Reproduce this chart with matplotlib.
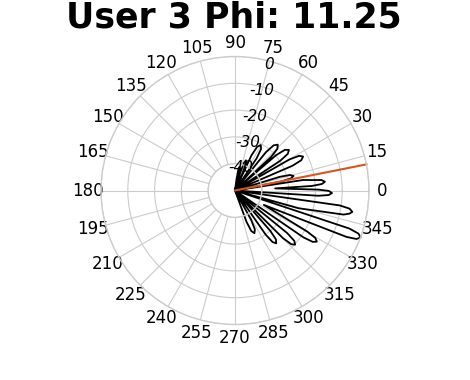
import numpy as np
import matplotlib
matplotlib.use("Agg")
import matplotlib.pyplot as plt

# ── data ───────────────────────────────────────────────────────────────────────
USER = 3
PHI_DEG = 11.25

# beam pattern vertices, theta in degrees, gain in dB (floor -50 = centre)
theta_deg = [-90,
             -69.8, -68.08, -65.5, -62.92, -61.2, -58.5,
             -55.2, -53.92, -52.0, -50.08, -48.8, -47,
             -44.8, -43.68, -42.0, -40.32, -39.2, -37,
             -34.4, -33.44, -32.0, -30.56, -29.6, -26.5,
             -22.6, -21.76, -20.5, -19.24, -18.4, -17.0,
             -15.6, -12.5, -11.4, -10.3, -9.0, -8.1, -5,
             -3.6, -2.76, -1.5, -0.24, 0.6, 3.0,
             3.4, 4.28, 5.6, 6.92, 7.8, 8.8, 10,
             11.0, 12.2, 14.0, 15.8, 17.0, 20,
             23.3, 24.58, 26.5, 28.42, 29.7, 32,
             33.3, 34.78, 37.0, 39.22, 40.7, 42,
             42.9, 44.54, 47.0, 49.46, 51.1, 54,
             56.1, 57.86, 60.5, 63.14, 64.9, 65.5,
             66.5, 67.9, 70.0, 72.1, 73.5, 75,
             75.5, 76.9, 79.0, 81.1, 82.5,
             90]
gain_db = [-50,
           -37.5, -33.7, -32.5, -33.7, -37.5, -50,
           -30.0, -26.2, -25.0, -26.2, -30.0, -50,
           -24.8, -21.0, -19.8, -21.0, -24.8, -50,
           -19.0, -15.2, -14.0, -15.2, -19.0, -38,
           -5.0, -1.2, 0.0, -1.2, -5.0, -50,
           -25.4, -8.5, -6.4, -5.5, -6.7, -10.5, -50,
           -18.8, -15.0, -13.8, -15.0, -18.8, -35,
           -21.3, -17.5, -16.3, -17.5, -21.3, -24.3, -50,
           -32.5, -28.7, -27.5, -28.7, -32.5, -50,
           -26.6, -22.8, -21.6, -22.8, -26.6, -50,
           -29.8, -26.0, -24.8, -26.0, -29.8, -50,
           -31.6, -27.8, -26.6, -27.8, -31.6, -50,
           -35.5, -31.7, -30.5, -31.7, -35.5, -50,
           -43.0, -39.2, -38.0, -39.2, -43.0, -50,
           -46.0, -42.2, -41.0, -42.2, -46.0,
           -50]

theta_ticks = list(range(0, 360, 15))
r_ticks = [-40, -30, -20, -10, 0]
R_ORIGIN, R_MIN, R_MAX = -50, -40, 0
RLABEL_DEG = 75

# ── plot ───────────────────────────────────────────────────────────────────────
fig = plt.figure(figsize=(4.7, 3.8), dpi=100)
ax = fig.add_axes([0.2149, 0.146, 0.5702, 0.7053], projection="polar")

ax.plot(np.deg2rad(theta_deg), gain_db, color="black", lw=1.3, clip_on=False)
ax.plot(np.deg2rad([PHI_DEG, PHI_DEG]), [R_ORIGIN, R_MAX],
        color="#d9541e", lw=1.5, clip_on=False)

ax.set_rorigin(R_ORIGIN)
ax.set_ylim(R_MIN, R_MAX)
ax.set_yticks(r_ticks)
ax.set_yticklabels([])
for t in r_ticks:
    ax.text(np.deg2rad(RLABEL_DEG), t - 1.3, str(t), fontsize=11,
            fontstyle="italic", ha="center", va="center", clip_on=False)
ax.set_xticks(np.deg2rad(theta_ticks))
ax.set_xticklabels([str(t) for t in theta_ticks], fontsize=12)
ax.tick_params(axis="x", pad=-1)
ax.grid(color="#cccccc", lw=0.8)
for sp in ax.spines.values():
    sp.set_color("#cccccc")
    sp.set_linewidth(1.0)

fig.text(0.498, 1 - 28 / 380, f"User {USER} Phi: {PHI_DEG}", fontsize=25,
         fontweight="bold", ha="center", va="baseline")

fig.savefig("out.png", dpi=100)
